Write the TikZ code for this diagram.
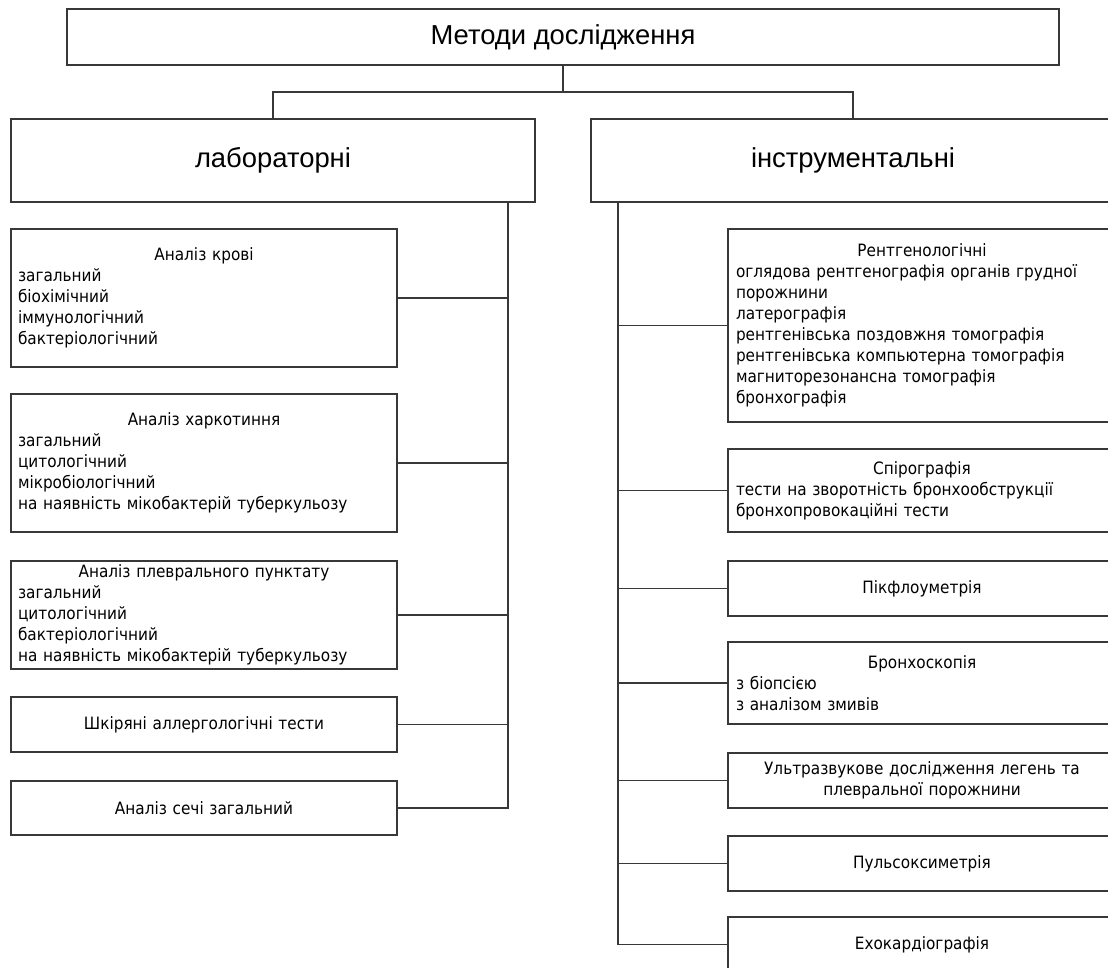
\documentclass[tikz,border=0pt]{standalone}
\usepackage{fontspec}
\setmainfont{DejaVu Sans}[FakeStretch=0.9]
\newfontfamily\headfont{Liberation Sans}
\setlength\parindent{0pt}
\setlength\parskip{0pt}
\begin{document}
\begin{tikzpicture}[x=1pt,y=-1pt,
  box/.style={draw=black!78, line width=1.3pt, rectangle, inner sep=0pt},
  head/.style={box, font=\headfont\fontsize{27.4}{31}\selectfont},
  item/.style={box, font=\fontsize{17}{21}\selectfont, align=left, text width=372pt},
  litem/.style={item, minimum width=386pt},
  ritem/.style={item, minimum width=388pt},
  conn/.style={draw=black!78, line width=1.2pt}]
\useasboundingbox (0,0) rectangle (1108,968);

% headings
\node[head, minimum width=992pt, minimum height=56pt] (top) at (563,37) {Методи дослідження};
\node[head, minimum width=524pt, minimum height=83pt] (lab) at (273,160.5) {лабораторні};
\node[head, minimum width=524pt, minimum height=83pt] (inst) at (853,160.5) {інструментальні};

% laboratory methods
\node[litem, minimum height=138pt] (blood) at (204,298)
  {{\centering Аналіз крові\par}загальний\par біохімічний\par іммунологічний\par бактеріологічний};
\node[litem, minimum height=138pt] (sputum) at (204,463)
  {{\centering Аналіз харкотиння\par}загальний\par цитологічний\par мікробіологічний\par на наявність мікобактерій туберкульозу};
\node[litem, minimum height=108pt] (pleura) at (204,615)
  {{\centering Аналіз плеврального пунктату\par}загальний\par цитологічний\par бактеріологічний\par на наявність мікобактерій туберкульозу};
\node[litem, align=center, minimum height=55pt] (skin) at (204,724.5) {Шкіряні аллергологічні тести};
\node[litem, align=center, minimum height=54pt] (urine) at (204,808) {Аналіз сечі загальний};

% instrumental methods
\node[ritem, minimum height=193pt] (xray) at (922,325.5)
  {{\centering Рентгенологічні\par}оглядова рентгенографія органів грудної\par порожнини\par латерографія\par рентгенівська поздовжня томографія\par рентгенівська компьютерна томографія\par магниторезонансна томографія\par бронхографія};
\node[ritem, minimum height=83pt] (spiro) at (922,490.5)
  {{\centering Спірографія\par}тести на зворотність бронхообструкції\par бронхопровокаційні тести};
\node[ritem, align=center, minimum height=55pt] (peak) at (922,588.5) {Пікфлоуметрія};
\node[ritem, minimum height=82pt] (bronch) at (922,683)
  {{\centering Бронхоскопія\par}з біопсією\par з аналізом змивів};
\node[ritem, align=center, minimum height=55pt] (us) at (922,780.5)
  {Ультразвукове дослідження легень та\\плевральної порожнини};
\node[ritem, align=center, minimum height=55pt] (pulse) at (922,863.5) {Пульсоксиметрія};
\node[ritem, align=center, minimum height=55pt] (echo) at (922,944.5) {Ехокардіографія};

% top level connectors
\coordinate (j) at (563,92);
\draw[conn] (top.south) -- (j);
\draw[conn] (lab.north) |- (j) -| (inst.north);

% laboratory trunk
\coordinate (lt) at (508,202);
\draw[conn] (lt) |- (urine.east);
\foreach \n in {blood,sputum,pleura,skin}
  \draw[conn] (\n.east) -- (\n.east -| lt);

% instrumental trunk
\coordinate (rt) at (618,202);
\draw[conn] (rt) |- (echo.west);
\foreach \n in {xray,spiro,peak,bronch,us,pulse}
  \draw[conn] (\n.west) -- (\n.west -| rt);
\end{tikzpicture}
\end{document}
